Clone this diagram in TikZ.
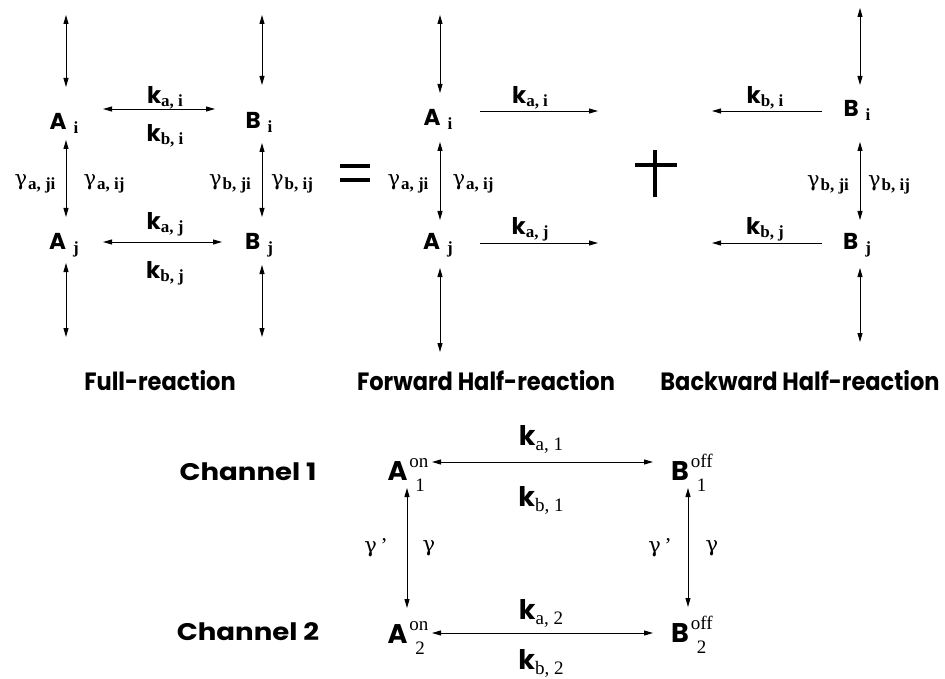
\documentclass[tikz,border=0pt]{standalone}
\usepackage{fontspec}
\setmainfont{Liberation Serif}
\newfontfamily\gothic{Poppins}
\newfontfamily\greek{DejaVu Serif}
\usetikzlibrary{arrows.meta}

\newcommand\gsz[1]{\fontsize{#1}{#1}\selectfont}
% species of the upper schemes: sans letter, spaced serif subscript
\newcommand\spc[2]{{\gothic\bfseries\gsz{23}#1}\hspace{7pt}\raisebox{-4pt}[0pt][0pt]{\bfseries\gsz{17}#2}}
% rate constant of the upper schemes
\newcommand\rate[1]{{\gothic\bfseries\gsz{23}k}\raisebox{-3pt}[0pt][0pt]{\bfseries\gsz{17}#1}}
% exchange rate between the two levels
\newcommand\cpl[1]{{\greek\gsz{21}γ}\hspace{1pt}\raisebox{-4pt}[0pt][0pt]{\bfseries\gsz{17}#1}}
% species of the channel scheme: letter with state above and channel below
\newcommand\chs[3]{{\gothic\bfseries\gsz{27}#1}\hspace{2pt}\rlap{\raisebox{-11pt}[0pt][0pt]{\gsz{19}\hspace{6pt}#3}}\raisebox{13pt}[0pt][0pt]{\gsz{19}#2}}
\newcommand\rateb[1]{{\gothic\bfseries\gsz{27}k}\raisebox{-5pt}[0pt][0pt]{\gsz{19}#1}}
\newcommand\capt[1]{\scalebox{0.9}[1]{\gothic\bfseries\gsz{25}#1}}
\newcommand\chan[1]{\scalebox{1.15}[1]{\gothic\bfseries\gsz{24}#1}}
\newcommand\gam[1]{{\greek\gsz{21}γ}{\gsz{21}#1}}

\begin{document}
\begin{tikzpicture}[x=1pt,y=-1pt,
  every node/.style={inner sep=0pt,outer sep=0pt},
  twoway/.style={line width=0.9pt,{Triangle[length=9pt,width=5pt]}-{Triangle[length=9pt,width=5pt]}},
  oneway/.style={line width=0.9pt,-{Triangle[length=9pt,width=5pt]}},
  sign/.style={line width=4.5pt}]
\useasboundingbox (0,0) rectangle (945,679);

% ---------- full reaction ----------
\node (fAi) at (64,121) {\spc{A}{i}};
\node (fBi) at (259,120) {\spc{B}{i}};
\node (fAj) at (64,241) {\spc{A}{j}};
\node (fBj) at (259,241) {\spc{B}{j}};
\coordinate (fAtop) at (66,15);
\coordinate (fBtop) at (262,15);
\coordinate (fAbot) at (66,337);
\coordinate (fBbot) at (262,337);

\draw[twoway] (fAtop) -- ([shift={(2,-34)}]fAi.center);
\draw[twoway] (fBtop) -- ([shift={(3,-35)}]fBi.center);
\draw[twoway] ([shift={(2,19)}]fAi.center) -- ([shift={(2,-24)}]fAj.center);
\draw[twoway] ([shift={(3,23)}]fBi.center) -- ([shift={(3,-24)}]fBj.center);
\draw[twoway] ([shift={(2,22)}]fAj.center) -- (fAbot);
\draw[twoway] ([shift={(3,24)}]fBj.center) -- (fBbot);
\draw[twoway] ([shift={(39,-12)}]fAi.center) -- ([shift={(-44,-11)}]fBi.center);
\draw[twoway] ([shift={(39,1)}]fAj.center) -- ([shift={(-37,1)}]fBj.center);

\node (fkai) at (165,95) {\rate{a, i}};
\node (fkbi) at (165,133) {\rate{b, i}};
\node (fkaj) at (165,221) {\rate{a, j}};
\node (fkbj) at (165,270) {\rate{b, j}};
\node (fgaji) at (35,182) {\cpl{a, ji}};
\node (fgaij) at (104,182) {\cpl{a, ij}};
\node (fgbji) at (230,182) {\cpl{b, ji}};
\node (fgbij) at (292,182) {\cpl{b, ij}};

% equals sign
\draw[sign] (340,166) -- (370,166);
\draw[sign] (340,180) -- (370,180);

% ---------- forward half-reaction ----------
\node (hAi) at (438,117) {\spc{A}{i}};
\node (hAj) at (438,241) {\spc{A}{j}};
\coordinate (hAtop) at (440,15);
\coordinate (hAbot) at (440,352);
\coordinate (hiend) at (598,111);
\coordinate (hjend) at (598,243);

\draw[twoway] (hAtop) -- ([shift={(2,-24)}]hAi.center);
\draw[twoway] ([shift={(2,25)}]hAi.center) -- ([shift={(2,-21)}]hAj.center);
\draw[twoway] ([shift={(2,27)}]hAj.center) -- (hAbot);
\draw[oneway] ([shift={(42,-6)}]hAi.center) -- (hiend);
\draw[oneway] ([shift={(42,2)}]hAj.center) -- (hjend);

\node (hkai) at (530,95) {\rate{a, i}};
\node (hkaj) at (530,226) {\rate{a, j}};
\node (hgaji) at (408,182) {\cpl{a, ji}};
\node (hgaij) at (473,182) {\cpl{a, ij}};

% plus sign
\draw[sign] (655,150) -- (655,197);
\draw[sign] (635,165) -- (677,165);

% ---------- backward half-reaction ----------
\node (bBi) at (857,108) {\spc{B}{i}};
\node (bBj) at (857,241) {\spc{B}{j}};
\coordinate (bBtop) at (860,8);
\coordinate (bBbot) at (860,342);
\coordinate (biend) at (712,111);
\coordinate (bjend) at (712,243);

\draw[twoway] (bBtop) -- ([shift={(3,-23)}]bBi.center);
\draw[twoway] ([shift={(3,34)}]bBi.center) -- ([shift={(3,-21)}]bBj.center);
\draw[twoway] ([shift={(3,27)}]bBj.center) -- (bBbot);
\draw[oneway] ([shift={(-35,3)}]bBi.center) -- (biend);
\draw[oneway] ([shift={(-35,2)}]bBj.center) -- (bjend);

\node (bkbi) at (765,95) {\rate{b, i}};
\node (bkbj) at (765,226) {\rate{b, j}};
\node (bgbji) at (828,183) {\cpl{b, ji}};
\node (bgbij) at (889,183) {\cpl{b, ij}};

% ---------- captions ----------
\node (capfull) at (160,381) {\capt{Full-reaction}};
\node (capfwd) at (486,381) {\capt{Forward Half-reaction}};
\node (capbwd) at (800,381) {\capt{Backward Half-reaction}};

% ---------- two-channel scheme ----------
\node (ch1) at (248,472) {\chan{Channel 1}};
\node (ch2) at (248,632) {\chan{Channel 2}};
\node (A1) at (408,471) {\chs{A}{on}{1}};
\node (B1) at (692,471) {\chs{B}{off}{1}};
\node (A2) at (408,634) {\chs{A}{on}{2}};
\node (B2) at (692,633) {\chs{B}{off}{2}};

\draw[twoway] ([shift={(24,-9)}]A1.center) -- ([shift={(-39,-9)}]B1.center);
\draw[twoway] ([shift={(24,-1)}]A2.center) -- ([shift={(-39,0)}]B2.center);
\draw[twoway] ([shift={(-1,17)}]A1.center) -- ([shift={(-1,-26)}]A2.center);
\draw[twoway] ([shift={(-4,17)}]B1.center) -- ([shift={(-4,-26)}]B2.center);

\node (ka1) at (541,436) {\rateb{a, 1}};
\node (kb1) at (541,497) {\rateb{b, 1}};
\node (ka2) at (541,610) {\rateb{a, 2}};
\node (kb2) at (541,660) {\rateb{b, 2}};
\node (gpA) at (376,548) {\gam{\,’}};
\node (gA) at (429,548) {\gam{}};
\node (gpB) at (660,548) {\gam{\,’}};
\node (gB) at (712,548) {\gam{}};
\end{tikzpicture}
\end{document}
